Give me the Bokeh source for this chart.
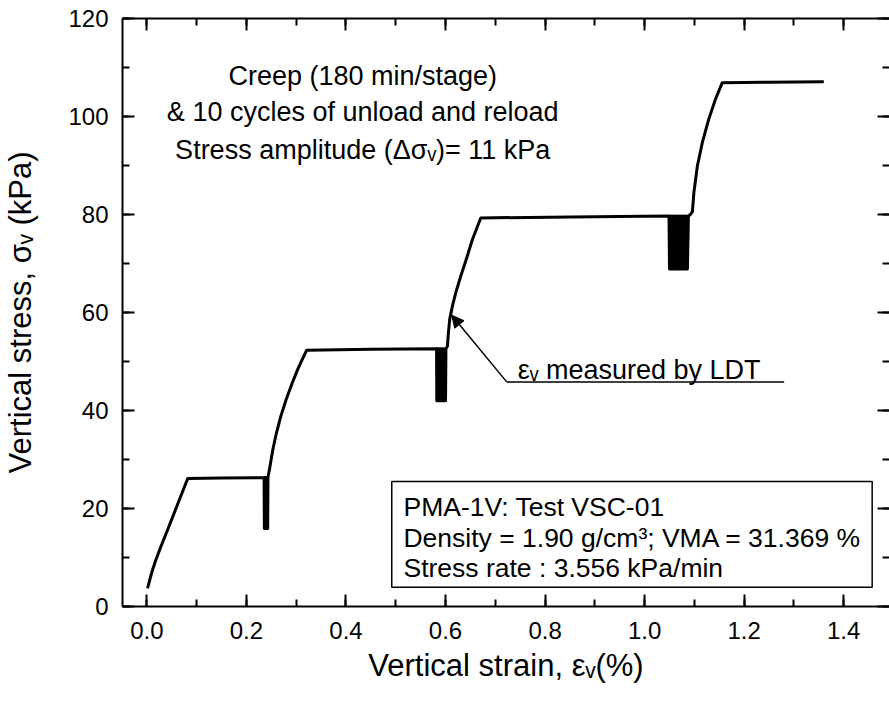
from bokeh.plotting import figure
from bokeh.models import (Range1d, LinearAxis, SingleIntervalTicker, NumeralTickFormatter,
                          Label, BoxAnnotation, Arrow, NormalHead, ColumnDataSource)
from bokeh.embed import file_html
from bokeh.resources import INLINE

# ---------------- data (vertical strain %, vertical stress kPa) ----------------
load1_strain = [0.0013, 0.0067, 0.0114, 0.018, 0.028, 0.0415, 0.055, 0.068, 0.082]
load1_stress = [3.7, 5.8, 7.5, 9.5, 12.2, 15.6, 19.1, 22.5, 26.1]
creep1_strain = [0.082, 0.150, 0.2355]
creep1_stress = [26.1, 26.2, 26.3]
cyc1_strain = [0.2360, 0.2365, 0.2368, 0.2372, 0.2375, 0.2380, 0.2383, 0.2387, 0.2390, 0.2395,
               0.2398, 0.2402, 0.2405, 0.2409, 0.2412, 0.2416, 0.2420, 0.2424, 0.2427, 0.2432]
cyc1_stress = [15.9, 26.3, 15.9, 26.3, 15.9, 26.3, 15.9, 26.3, 15.9, 26.3,
               15.9, 26.3, 15.9, 26.3, 15.9, 26.3, 15.9, 26.3, 15.9, 26.3]
load2_strain = [0.2435, 0.248, 0.253, 0.260, 0.269, 0.280, 0.292, 0.303, 0.312, 0.321]
load2_stress = [26.5, 29.0, 32.0, 35.3, 38.8, 42.3, 45.6, 48.4, 50.4, 52.3]
creep2_strain = [0.321, 0.450, 0.582]
creep2_stress = [52.3, 52.5, 52.6]
cyc2_strain = [0.5825, 0.5835, 0.5845, 0.5855, 0.5865, 0.5875, 0.5885, 0.5895, 0.5905, 0.5915,
               0.5925, 0.5935, 0.5945, 0.5955, 0.5965, 0.5975, 0.5985, 0.5992, 0.6000, 0.6008]
cyc2_stress = [42.0, 52.6, 42.0, 52.6, 42.0, 52.6, 42.0, 52.6, 42.0, 52.6,
               42.0, 52.6, 42.0, 52.6, 42.0, 52.6, 42.0, 52.6, 42.0, 52.6]
load3_strain = [0.6038, 0.6058, 0.6084, 0.6138, 0.6205, 0.6305, 0.6406, 0.654, 0.6707]
load3_stress = [53.1, 55.9, 58.6, 61.3, 64.0, 67.4, 70.5, 74.9, 79.3]
creep3_strain = [0.6707, 0.850, 1.049]
creep3_stress = [79.3, 79.5, 79.7]
cyc3_strain = [1.050, 1.052, 1.054, 1.056, 1.058, 1.060, 1.062, 1.064, 1.066, 1.068,
               1.070, 1.072, 1.074, 1.076, 1.078, 1.080, 1.082, 1.084, 1.086, 1.088]
cyc3_stress = [68.9, 79.7, 68.9, 79.7, 68.9, 79.7, 68.9, 79.7, 68.9, 79.7,
               68.9, 79.7, 68.9, 79.7, 68.9, 79.7, 68.9, 79.7, 68.9, 79.7]
load4_strain = [1.092, 1.096, 1.099, 1.106, 1.116, 1.129, 1.1426, 1.156]
load4_stress = [80.0, 80.6, 84.5, 89.9, 94.7, 99.5, 103.6, 106.9]
creep4_strain = [1.156, 1.250, 1.360]
creep4_stress = [106.9, 107.0, 107.1]

x_ticks_interval = 0.2
y_ticks_interval = 20

title_lines = ["Creep (180 min/stage)", "& 10 cycles of unload and reload",
               "Stress amplitude (Δσᵥ)= 11 kPa"]
info_lines = ["PMA-1V: Test VSC-01", "Density = 1.90 g/cm³; VMA = 31.369 %",
              "Stress rate : 3.556 kPa/min"]
arrow_text = "εᵥ measured by LDT"

# ---------------- assemble ----------------
strain = (load1_strain + creep1_strain + cyc1_strain + load2_strain + creep2_strain +
          cyc2_strain + load3_strain + creep3_strain + cyc3_strain + load4_strain + creep4_strain)
stress = (load1_stress + creep1_stress + cyc1_stress + load2_stress + creep2_stress +
          cyc2_stress + load3_stress + creep3_stress + cyc3_stress + load4_stress + creep4_stress)
src = ColumnDataSource(data=dict(strain=strain, stress=stress))

FONT = "Liberation Sans"

p = figure(width=889, height=702, x_range=Range1d(-0.049, 1.492), y_range=Range1d(0, 120),
           output_backend="svg", toolbar_location=None, x_axis_type=None, y_axis_type=None,
           min_border_left=122, min_border_right=0, min_border_top=18, min_border_bottom=96)
p.outline_line_color = None
p.background_fill_color = "white"
p.border_fill_color = "white"


def style(ax, show_labels=True):
    ax.axis_line_width = 2
    ax.axis_line_color = "black"
    ax.major_tick_in = 12
    ax.major_tick_out = 0
    ax.minor_tick_in = 7
    ax.minor_tick_out = 0
    ax.major_tick_line_width = 2
    ax.minor_tick_line_width = 2
    ax.major_tick_line_color = "black"
    ax.minor_tick_line_color = "black"
    ax.major_label_text_font = FONT
    ax.axis_label_text_font = FONT
    ax.axis_label_text_font_style = "normal"
    ax.axis_label_text_color = "black"
    ax.axis_label_text_font_size = "31px"
    if show_labels:
        ax.major_label_text_font_size = "24px"
        ax.major_label_text_color = "black"
    else:
        ax.major_label_text_font_size = "1px"
        ax.major_label_text_color = None
        ax.major_label_text_alpha = 0
        ax.major_label_standoff = 0


xb = LinearAxis(ticker=SingleIntervalTicker(interval=x_ticks_interval, num_minor_ticks=2),
                formatter=NumeralTickFormatter(format="0.0"),
                axis_label="Vertical strain, εᵥ(%)")
style(xb)
xb.major_label_standoff = 15
xb.axis_label_standoff = 6
p.add_layout(xb, "below")

yl = LinearAxis(ticker=SingleIntervalTicker(interval=y_ticks_interval, num_minor_ticks=2),
                axis_label="Vertical stress, σᵥ (kPa)")
style(yl)
yl.major_label_standoff = 14
yl.axis_label_standoff = 27
p.add_layout(yl, "left")

xt = LinearAxis(ticker=SingleIntervalTicker(interval=x_ticks_interval, num_minor_ticks=2))
style(xt, show_labels=False)
p.add_layout(xt, "above")

yr = LinearAxis(ticker=SingleIntervalTicker(interval=y_ticks_interval, num_minor_ticks=2))
style(yr, show_labels=False)
yr.axis_line_color = None
p.add_layout(yr, "right")

p.line("strain", "stress", source=src, line_width=3, line_color="black", line_join="round")

# info box
p.add_layout(BoxAnnotation(left=0.492, right=1.4572, bottom=3.94, top=25.51,
                           fill_color="white", fill_alpha=1.0, line_color="black",
                           line_width=1.5, line_alpha=1.0))
for txt, yy in zip(info_lines, [20.33, 13.88, 7.76]):
    p.add_layout(Label(x=0.5155, y=yy, text=txt, text_font=FONT, text_font_size="26.5px",
                       text_color="black", text_align="left", text_baseline="alphabetic"))

for txt, yy in zip(title_lines, [108.3, 101.0, 93.2]):
    p.add_layout(Label(x=0.4337, y=yy, text=txt, text_font=FONT, text_font_size="27px",
                       text_color="black", text_align="center", text_baseline="alphabetic"))

# LDT annotation
p.add_layout(Label(x=0.745, y=48.2, text=arrow_text, text_font=FONT, text_font_size="27px",
                   text_color="black", text_align="left", text_baseline="alphabetic"))
p.add_layout(Arrow(end=NormalHead(size=12, fill_color="black", line_color="black", line_width=1),
                   x_start=0.7229, y_start=45.84, x_end=0.6125, y_end=59.45,
                   line_width=1.5, line_color="black"))
p.add_layout(Arrow(end=None, x_start=0.7229, y_start=45.84, x_end=1.2803, y_end=45.84,
                   line_width=1.5, line_color="black"))

open("out.html", "w").write(file_html(p, INLINE))
